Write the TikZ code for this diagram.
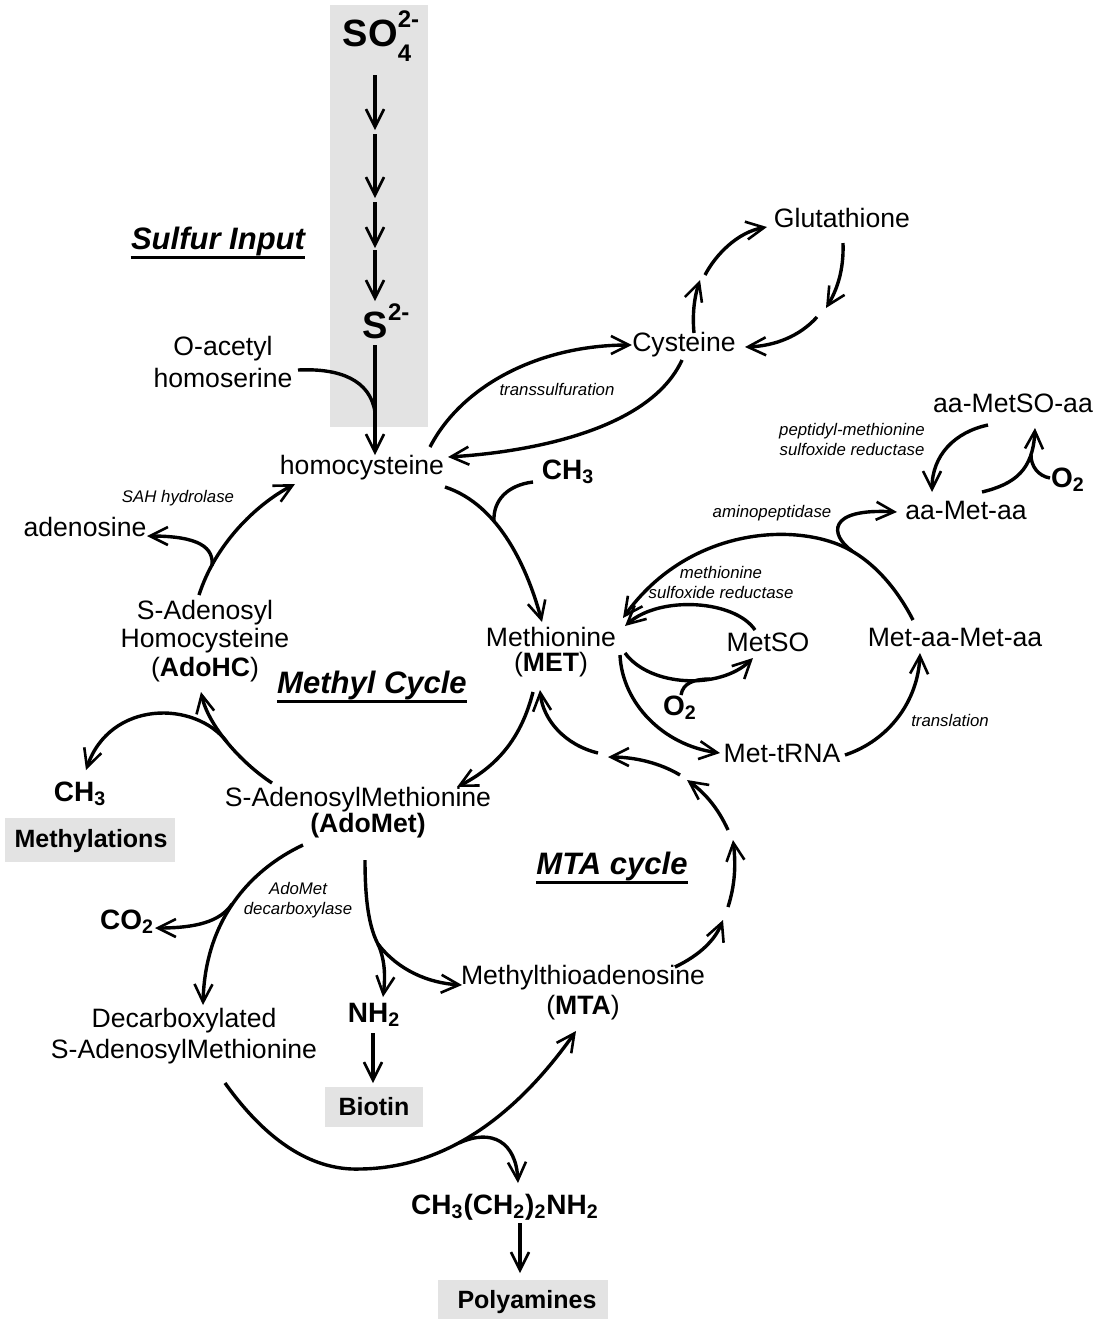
\documentclass[tikz,border=0pt]{standalone}
\usepackage{fontspec}
\setmainfont{Liberation Sans}
\usetikzlibrary{arrows.meta}
\begin{document}
\begin{tikzpicture}[x=0.5pt,y=-0.5pt,
 ln/.style={line width=1.7pt},
 arr/.style={line width=1.7pt,-{Straight Barb[length=9pt,width=9pt,line width=1.3pt]}},
 txt/.style={inner sep=0pt,align=center,font=\fontsize{13.3}{14.5}\selectfont},
 enz/.style={inner sep=0pt,align=center,font=\itshape\fontsize{8.4}{10}\selectfont},
 chem/.style={inner sep=0pt,font=\bfseries\fontsize{14}{16}\selectfont},
 bigchem/.style={inner sep=0pt,font=\bfseries\fontsize{19}{22}\selectfont},
 head/.style={inner sep=0pt,font=\bfseries\itshape\fontsize{15.5}{18}\selectfont},
 boxlab/.style={inner sep=0pt,font=\bfseries\fontsize{12.5}{15}\selectfont},
 shadebox/.style={fill=black!11,draw=none},
 uline/.style={line width=1.5pt}]
\useasboundingbox (0,0) rectangle (1094,1319);

% shaded backgrounds
\fill[shadebox] (330,5) rectangle (428,427);
\fill[shadebox] (5,818) rectangle (175,862);
\fill[shadebox] (325,1087) rectangle (423,1127);
\fill[shadebox] (438,1280) rectangle (608,1319);

% ---------- nodes ----------
\node[bigchem] (so4) at (377,36) {SO\rlap{\raisebox{0.5em}{\fontsize{12}{12}\selectfont 2-}}\raisebox{-0.38em}{\fontsize{12}{12}\selectfont 4}};
\node[bigchem] (s2) at (386,321) {S\raisebox{0.48em}{\fontsize{12}{12}\selectfont 2-}};
\node[head] (sulfur) at (218,241) {Sulfur Input};
\node[txt,font=\fontsize{13.3}{16}\selectfont] (oah) at (223,362) {O-acetyl\\homoserine};
\node[txt] (hcy) at (362,468) {homocysteine};
\node[txt] (cys) at (684,345) {Cysteine};
\node[txt] (glu) at (842,218) {Glutathione};
\node[enz] (trans) at (557,389) {transsulfuration};
\node[chem] (ch3a) at (568,472) {CH\textsubscript{3}};
\node[txt,font=\fontsize{13.3}{12.5}\selectfont] (met) at (551,652) {Methionine\\(\textbf{MET})};
\node[txt] (metso) at (768,642) {MetSO};
\node[chem] (o2a) at (680,708) {O\textsubscript{2}};
\node[txt] (metrna) at (782,753) {Met-tRNA};
\node[txt] (metaa) at (955,637) {Met-aa-Met-aa};
\node[txt] (aamet) at (966,510) {aa-Met-aa};
\node[txt] (aametso) at (1013,403) {aa-MetSO-aa};
\node[chem] (o2b) at (1068,480) {O\textsubscript{2}};
\node[enz] (msr) at (721,582) {methionine\\sulfoxide reductase};
\node[enz] (amp) at (772,513) {aminopeptidase};
\node[enz] (pmsr) at (852,439) {peptidyl-methionine\\sulfoxide reductase};
\node[enz] (transl) at (950,720) {translation};
\node[head] (mcyc) at (372,685) {Methyl Cycle};
\node[head] (mtacyc) at (612,866) {MTA cycle};
\node[txt,font=\fontsize{13.3}{14.3}\selectfont] (adohc) at (205,641) {S-Adenosyl\\Homocysteine\\(\textbf{AdoHC})};
\node[txt] (aden) at (85,527) {adenosine};
\node[enz] (sah) at (178,498) {SAH hydrolase};
\node[txt] (adomet) at (358,800) {S-AdenosylMethionine};
\node[txt,font=\bfseries\fontsize{13.3}{14.5}\selectfont] (adometb) at (368,826) {(AdoMet)};
\node[chem] (ch3b) at (80,794) {CH\textsubscript{3}};
\node[boxlab] (methyl) at (91,841) {Methylations};
\node[chem] (co2) at (127,922) {CO\textsubscript{2}};
\node[enz] (amdc) at (298,900) {AdoMet\\decarboxylase};
\node[txt,font=\fontsize{13.3}{15.5}\selectfont] (dcsam) at (184,1036) {Decarboxylated\\S-AdenosylMethionine};
\node[chem] (nh2) at (374,1015) {NH\textsubscript{2}};
\node[boxlab] (biotin) at (374,1107) {Biotin};
\node[txt,font=\fontsize{13.3}{15}\selectfont] (mta) at (583,993) {Methylthioadenosine\\(\textbf{MTA})};
\node[chem] (amine) at (505,1207) {CH\textsubscript{3}(CH\textsubscript{2})\textsubscript{2}NH\textsubscript{2}};
\node[boxlab] (polyam) at (527,1302) {Polyamines};

% underlines of headings
\draw[uline] ([yshift=-1pt]sulfur.south west) -- ([yshift=-1pt]sulfur.south east);
\draw[uline] ([yshift=-1pt]mcyc.south west) -- ([yshift=-1pt]mcyc.south east);
\draw[uline] ([yshift=-1pt]mtacyc.south west) -- ([yshift=-1pt]mtacyc.south east);

% ---------- sulfur input ----------
\coordinate (k0) at (375,75);
\coordinate (k1) at (375,130);
\coordinate (k2) at (375,198);
\coordinate (k3) at (375,248);
\coordinate (k4) at (375,301);
\coordinate (k5) at (375,345);
\coordinate (k6) at (375,455);
\draw[arr] (k0) -- (k1);
\draw[arr,shorten <=2pt] (k1) -- (k2);
\draw[arr,shorten <=2pt] (k2) -- (k3);
\draw[arr,shorten <=1pt] (k3) -- (k4);
\draw[arr] (k5) -- (k6);
\coordinate (oa1) at (298,370);
\coordinate (oa2) at (375,412);
\draw[ln] (oa1) .. controls (340,368) and (370,380) .. (oa2);

% ---------- transsulfuration / glutathione ----------
\coordinate (t1) at (430,447);
\draw[arr] (t1) .. controls (462,385) and (540,345) .. (cys.west);
\coordinate (t2) at (682,360);
\coordinate (t3) at (448,457);
\draw[arr] (t2) .. controls (650,430) and (530,452) .. (t3);
\coordinate (g0) at (694,333);
\coordinate (g1) at (700,280);
\coordinate (g2) at (705,275);
\coordinate (g3) at (767,227);
\coordinate (g4) at (843,243);
\coordinate (g5) at (826,308);
\coordinate (g6) at (817,317);
\coordinate (g7) at (745,347);
\draw[arr] (g0) .. controls (692,312) and (695,295) .. (g1);
\draw[arr] (g2) .. controls (716,254) and (738,232) .. (g3);
\draw[arr] (g4) .. controls (844,270) and (837,290) .. (g5);
\draw[arr] (g6) .. controls (800,336) and (775,346) .. (g7);

% ---------- methyl cycle ----------
\coordinate (m1) at (445,487);
\coordinate (m2) at (542,622);
\draw[arr] (m1) .. controls (500,505) and (528,570) .. (m2);
\coordinate (m3) at (533,482);
\coordinate (m4) at (494,521);
\draw[ln] (m3) .. controls (508,485) and (493,500) .. (m4);
\coordinate (m5) at (533,692);
\coordinate (m6) at (457,787);
\draw[arr] (m5) .. controls (522,735) and (500,765) .. (m6);
\coordinate (m7) at (272,783);
\coordinate (m8) at (201,692);
\draw[arr] (m7) .. controls (240,762) and (208,725) .. (m8);
\coordinate (m9) at (227,742);
\coordinate (m10) at (86,770);
\draw[arr] (m9) .. controls (195,700) and (110,700) .. (m10);
\coordinate (m11) at (199,595);
\coordinate (m12) at (295,484);
\draw[arr] (m11) .. controls (215,545) and (255,505) .. (m12);
\coordinate (m13) at (212,566);
\coordinate (m14) at (147,536);
\draw[arr] (m13) .. controls (214,548) and (200,536) .. (m14);

% ---------- AdoMet branches ----------
\coordinate (d1) at (303,845);
\coordinate (d2) at (203,1005);
\draw[arr] (d1) .. controls (250,870) and (205,920) .. (d2);
\coordinate (d3) at (232,904);
\coordinate (d4) at (155,928);
\draw[arr] (d3) .. controls (220,922) and (195,928) .. (d4);
\coordinate (n1) at (365,860);
\coordinate (n2) at (379,946);
\draw[ln] (n1) .. controls (365,905) and (370,930) .. (n2);
\coordinate (n3) at (383,997);
\coordinate (n4) at (462,985);
\coordinate (n5) at (378,944);
\draw[arr] (n5) .. controls (386,962) and (385,980) .. (n3);
\draw[arr] (n5) .. controls (398,970) and (428,983) .. (n4);
\coordinate (b1) at (373,1033);
\coordinate (b2) at (373,1083);
\draw[arr] (b1) -- (b2);
\coordinate (p0) at (225,1083);
\coordinate (p1) at (360,1169);
\coordinate (p2) at (576,1031);
\draw[arr] (p0) .. controls (280,1160) and (330,1170) .. (p1) .. controls (450,1168) and (520,1110) .. (p2);
\coordinate (p3) at (459,1143);
\coordinate (p4) at (518,1183);
\draw[arr] (p3) .. controls (492,1128) and (516,1142) .. (p4);
\coordinate (p5) at (520,1223);
\coordinate (p6) at (520,1273);
\draw[arr] (p5) -- (p6);

% ---------- MTA cycle ----------
\coordinate (c1) at (675,967);
\coordinate (c2) at (723,920);
\coordinate (c3) at (728,907);
\coordinate (c4) at (733,840);
\coordinate (c5) at (728,830);
\coordinate (c6) at (687,780);
\coordinate (c7) at (680,775);
\coordinate (c8) at (608,757);
\coordinate (c9) at (598,753);
\coordinate (c10) at (540,690);
\draw[arr] (c1) .. controls (700,955) and (715,940) .. (c2);
\draw[arr] (c3) .. controls (735,885) and (736,865) .. (c4);
\draw[arr] (c5) .. controls (718,808) and (705,793) .. (c6);
\draw[arr] (c7) .. controls (660,763) and (635,757) .. (c8);
\draw[arr] (c9) .. controls (565,745) and (543,720) .. (c10);

% ---------- methionine salvage / protein ----------
\coordinate (r1) at (755,630);
\coordinate (r2) at (625,626);
\draw[arr] (r1) .. controls (735,600) and (660,595) .. (r2);
\coordinate (r3) at (913,620);
\coordinate (r4) at (850,550);
\coordinate (r5) at (623,618);
\draw[arr] (r3) .. controls (895,585) and (872,562) .. (r4) .. controls (800,522) and (690,525) .. (r5);
\coordinate (r6) at (852,551);
\coordinate (r7) at (897,512);
\draw[arr] (r6) .. controls (830,535) and (826,508) .. (r7);
\coordinate (r8) at (625,653);
\coordinate (r9) at (753,658);
\draw[arr] (r8) .. controls (650,687) and (720,690) .. (r9);
\coordinate (r10) at (681,695);
\coordinate (r11) at (710,679);
\draw[ln] (r10) .. controls (683,683) and (694,679) .. (r11);
\coordinate (r12) at (620,655);
\coordinate (r13) at (720,753);
\draw[arr] (r12) .. controls (622,702) and (662,745) .. (r13);
\coordinate (r14) at (845,755);
\coordinate (r15) at (920,653);
\draw[arr] (r14) .. controls (890,740) and (918,700) .. (r15);
\coordinate (r16) at (988,425);
\coordinate (r17) at (932,492);
\draw[arr] (r16) .. controls (955,432) and (932,455) .. (r17);
\coordinate (r18) at (982,492);
\coordinate (r19) at (1035,428);
\draw[arr] (r18) .. controls (1015,484) and (1033,470) .. (r19);
\coordinate (r20) at (1050,478);
\coordinate (r21) at (1031,455);
\draw[ln] (r20) .. controls (1038,476) and (1031,466) .. (r21);
\end{tikzpicture}
\end{document}
